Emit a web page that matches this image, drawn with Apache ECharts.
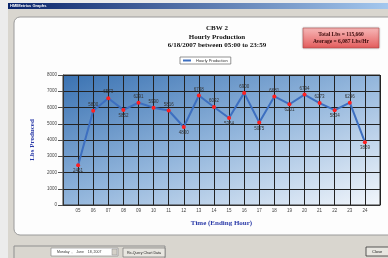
<!DOCTYPE html>
<html>
<head>
<meta charset="utf-8">
<script src="https://cdn.jsdelivr.net/npm/echarts@6/dist/echarts.min.js"></script>
<style>
  html, body { margin: 0; padding: 0; background: #e9e9e9; }
  #chart { width: 388px; height: 258px; }
</style>
</head>
<body>
<div id="chart"></div>
<script>
// hour labels (ending hour) and hourly production in lbs
var hours = ['05', '06', '07', '08', '09', '10', '11', '12', '13', '14',
             '15', '16', '17', '18', '19', '20', '21', '22', '23', '24'];
var lbs = [2451, 5800, 6573, 5852, 6291, 5990, 5816, 4800, 6738, 6032,
           5354, 6900, 5075, 6681, 6201, 6794, 6273, 5834, 6296, 3869];
var yTicks = [0, 1000, 2000, 3000, 4000, 5000, 6000, 7000, 8000];
var titleLines = ['CBW 2', 'Hourly Production', '6/18/2007 between 05:00 to 23:59'];
var totalText = 'Total Lbs = 115,660';
var avgText = 'Average = 6,087 Lbs/Hr';

var serif = '"Liberation Serif", "DejaVu Serif", serif';
var sans = '"Liberation Sans", Arial, sans-serif';
var lineColor = '#3d6fc0';

// label goes under a point when it is lower than its neighbours
function labelPos(i) {
    var v = lbs[i];
    var prev = i > 0 ? lbs[i - 1] : Infinity;
    var next = i < lbs.length - 1 ? lbs[i + 1] : Infinity;
    return (v < prev && v < next) ? 'bottom' : 'top';
}

var points = lbs.map(function (v, i) {
    return {
        value: [Number(hours[i]), v],
        label: { position: labelPos(i) }
    };
});

var myChart = echarts.init(document.getElementById('chart'));
myChart.setOption({
    animation: false,
    backgroundColor: '#ececec',
    graphic: [
        // window body
        { type: 'rect', z: -10, shape: { x: 8, y: 3, width: 385, height: 260 },
          style: { fill: '#d9d6cf' } },
        { type: 'rect', z: -9, shape: { x: 8, y: 3, width: 385, height: 6 },
          style: { fill: new echarts.graphic.LinearGradient(0, 0, 1, 0, [
              { offset: 0, color: '#0a246a' }, { offset: 1, color: '#a6caf0' }]) } },
        { type: 'text', z: -8, x: 10, y: 4,
          style: { text: 'HMIMetrics Graphs', fill: '#fff', font: 'bold 4px ' + sans } },
        // white panel
        { type: 'rect', z: -7, shape: { x: 14, y: 17, width: 384, height: 218, r: 6 },
          style: { fill: '#fdfdfd', stroke: '#9a9a9a', lineWidth: 1 } },
        // chart title
        { type: 'text', z: 4, x: 217, y: 24,
          style: { text: titleLines.join('\n'), fill: '#111', font: 'bold 7px ' + serif,
                   lineHeight: 8.5, textAlign: 'center' } },
        // totals box
        { type: 'rect', z: 5, shape: { x: 303, y: 28, width: 76, height: 20 },
          style: { fill: new echarts.graphic.LinearGradient(0, 0, 0, 1, [
              { offset: 0, color: '#f7b9b9' }, { offset: 1, color: '#e45c5c' }]),
              stroke: '#b04040', lineWidth: 0.5, shadowBlur: 2, shadowColor: 'rgba(0,0,0,0.3)' } },
        { type: 'text', z: 6, x: 341, y: 35,
          style: { text: totalText, fill: '#3a0a0a', font: 'bold 5.5px ' + serif,
                   textAlign: 'center', textVerticalAlign: 'middle' } },
        { type: 'text', z: 6, x: 341, y: 41.5,
          style: { text: avgText, fill: '#3a0a0a', font: 'bold 5.5px ' + serif,
                   textAlign: 'center', textVerticalAlign: 'middle' } },
        // bottom controls
        { type: 'rect', z: 1, shape: { x: 14, y: 246, width: 151, height: 14 },
          style: { fill: 'none', stroke: '#8f8f8f', lineWidth: 1 } },
        { type: 'rect', z: 2, shape: { x: 51, y: 248, width: 67, height: 8 },
          style: { fill: '#fff', stroke: '#7a7a7a', lineWidth: 0.6 } },
        { type: 'text', z: 3, x: 57, y: 252,
          style: { text: 'Monday  ,    June    18, 2007', fill: '#333', font: '3.5px ' + sans,
                   textVerticalAlign: 'middle' } },
        { type: 'rect', z: 3, shape: { x: 112, y: 249, width: 5, height: 6 },
          style: { fill: '#d4d0c8', stroke: '#888', lineWidth: 0.5 } },
        { type: 'rect', z: 2, shape: { x: 123, y: 248, width: 42, height: 9 },
          style: { fill: '#e8e6e0', stroke: '#666', lineWidth: 0.6 } },
        { type: 'text', z: 3, x: 144, y: 252.5,
          style: { text: 'Re-Query Chart Data', fill: '#222', font: '3.6px ' + sans,
                   textAlign: 'center', textVerticalAlign: 'middle' } },
        { type: 'rect', z: 2, shape: { x: 366, y: 247, width: 26, height: 9 },
          style: { fill: '#e8e6e0', stroke: '#333', lineWidth: 0.8 } },
        { type: 'text', z: 3, x: 377, y: 251.5,
          style: { text: 'Close', fill: '#222', font: '4px ' + sans,
                   textAlign: 'center', textVerticalAlign: 'middle' } }
    ],
    legend: {
        data: [{ name: 'Hourly Production', itemStyle: { color: lineColor } }],
        left: 180,
        top: 57,
        padding: [1.5, 3],
        itemWidth: 8,
        itemHeight: 2,
        itemGap: 2,
        icon: 'rect',
        backgroundColor: '#fff',
        borderColor: '#777',
        borderWidth: 0.8,
        textStyle: { fontSize: 4, color: '#333', fontFamily: sans }
    },
    grid: {
        left: 63,
        top: 75,
        width: 317,
        height: 130,
        show: true,
        borderColor: '#333',
        borderWidth: 1,
        backgroundColor: new echarts.graphic.LinearGradient(63, 75, 154, 298, [
            { offset: 0, color: '#3a72b2' },
            { offset: 0.5, color: '#93b6dc' },
            { offset: 1, color: '#f3f7fc' }
        ], true)
    },
    xAxis: {
        type: 'value',
        min: 4,
        max: 25,
        interval: 1,
        name: 'Time (Ending Hour)',
        nameLocation: 'middle',
        nameGap: 15,
        nameTextStyle: { fontFamily: serif, fontWeight: 'bold', fontSize: 7, color: '#2a3aa8' },
        axisLine: { lineStyle: { color: '#333', width: 1 } },
        axisTick: { show: false },
        axisLabel: {
            fontSize: 4.5,
            color: '#444',
            margin: 3,
            formatter: function (v) {
                var idx = hours.indexOf((v < 10 ? '0' : '') + v);
                return idx >= 0 ? hours[idx] : '';
            }
        },
        splitLine: { show: true, lineStyle: { color: '#222', width: 1 } }
    },
    yAxis: {
        type: 'value',
        min: yTicks[0],
        max: yTicks[yTicks.length - 1],
        interval: 1000,
        name: 'Lbs Produced',
        nameLocation: 'middle',
        nameGap: 24,
        nameTextStyle: { fontFamily: serif, fontWeight: 'bold', fontSize: 7, color: '#2a3aa8' },
        axisLine: { show: true, lineStyle: { color: '#333', width: 1 } },
        axisTick: { show: true, length: 5, lineStyle: { color: '#555' } },
        axisLabel: { fontSize: 4.5, color: '#444', margin: 6,
                     formatter: function (v) { return String(v); } },
        splitLine: { show: true, lineStyle: { color: '#222', width: 1 } }
    },
    series: [{
        name: 'Hourly Production',
        type: 'line',
        data: points,
        color: lineColor,
        lineStyle: { color: lineColor, width: 2 },
        symbol: 'circle',
        symbolSize: 4,
        itemStyle: { color: '#ff2020' },
        label: {
            show: true,
            fontSize: 4.5,
            color: '#333',
            distance: 1.5
        },
        z: 5
    }]
});
</script>
</body>
</html>
